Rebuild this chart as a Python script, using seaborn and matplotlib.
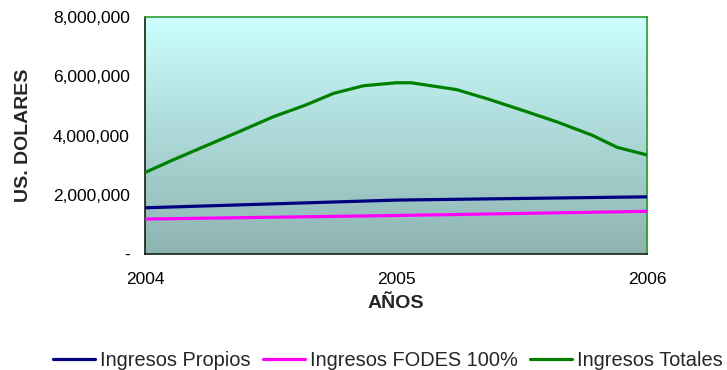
import numpy as np
import pandas as pd
import matplotlib.pyplot as plt
import seaborn as sns
from matplotlib.colors import LinearSegmentedColormap

# yearly values
years = [2004, 2005, 2006]
propios = [1560000, 1820000, 1930000]
fodes = [1180000, 1300000, 1440000]

# the totals line is drawn smoothed in the original, so read it at several points
totales_x = [2004.0, 2004.11, 2004.25, 2004.38, 2004.51, 2004.64, 2004.75, 2004.87,
             2005.0, 2005.06, 2005.24, 2005.37, 2005.51, 2005.64, 2005.78, 2005.88, 2006.0]
totales_y = [2750000, 3170000, 3680000, 4150000, 4630000, 5030000, 5420000, 5680000,
             5780000, 5780000, 5550000, 5220000, 4830000, 4460000, 4010000, 3600000, 3340000]

series = ["Ingresos Propios", "Ingresos FODES 100%", "Ingresos Totales"]
colors = ["#000080", "#FF00FF", "#008000"]

data = pd.concat([
    pd.DataFrame({"x": years, "y": propios, "serie": series[0]}),
    pd.DataFrame({"x": years, "y": fodes, "serie": series[1]}),
    pd.DataFrame({"x": totales_x, "y": totales_y, "serie": series[2]}),
])

sns.set_style("white")
plt.rcParams["font.family"] = ["Liberation Sans", "DejaVu Sans"]

fig = plt.figure(figsize=(7.27, 3.70), dpi=100)
ax = fig.add_axes([0.1994, 0.3135, 0.6911, 0.6405])

grad = LinearSegmentedColormap.from_list("bg", ["#8DB3B0", "#CCFFFF"])
ax.imshow(np.linspace(0, 1, 256).reshape(-1, 1), cmap=grad, origin="lower",
          aspect="auto", extent=[0, 1, 0, 1], transform=ax.transAxes, zorder=0)

a = sns.lineplot(data=data, x="x", y="y", hue="serie", hue_order=series,
                 palette=colors, linewidth=2.3, estimator=None, sort=True, ax=ax,
                 zorder=3)
for ln in ax.lines:
    ln.set_solid_joinstyle("round")

ax.set_xlim(2004, 2006)
ax.set_ylim(0, 8000000)
ax.set_xticks(years)
ax.set_xticklabels([str(y) for y in years])
ax.set_yticks([0, 2000000, 4000000, 6000000, 8000000])
ax.set_yticklabels(["-", "2,000,000", "4,000,000", "6,000,000", "8,000,000"])
ax.tick_params(axis="y", direction="inout", length=6, width=1, pad=8, labelsize=12.5, colors="black")
ax.tick_params(axis="x", direction="out", length=5, width=1, pad=8, labelsize=12.5, colors="black")

for s in ["left", "bottom"]:
    ax.spines[s].set_color("#102010")
    ax.spines[s].set_linewidth(1.2)
for s in ["top", "right"]:
    ax.spines[s].set_color("#2E9A2E")
    ax.spines[s].set_linewidth(1.2)

a.set_xlabel("AÑOS", fontsize=14, fontweight="bold", labelpad=6)
a.set_ylabel("US. DOLARES", fontsize=14, fontweight="bold", labelpad=10)
ax.yaxis.set_label_coords(-0.225, 0.5)

ax.legend(loc="center", bbox_to_anchor=(388 / 727, 1 - 360 / 370), bbox_transform=fig.transFigure,
          ncol=3, frameon=False, fontsize=14.4, handlelength=2.1, handletextpad=0.25,
          columnspacing=0.6, borderaxespad=0)

fig.savefig("out.png", dpi=100)
